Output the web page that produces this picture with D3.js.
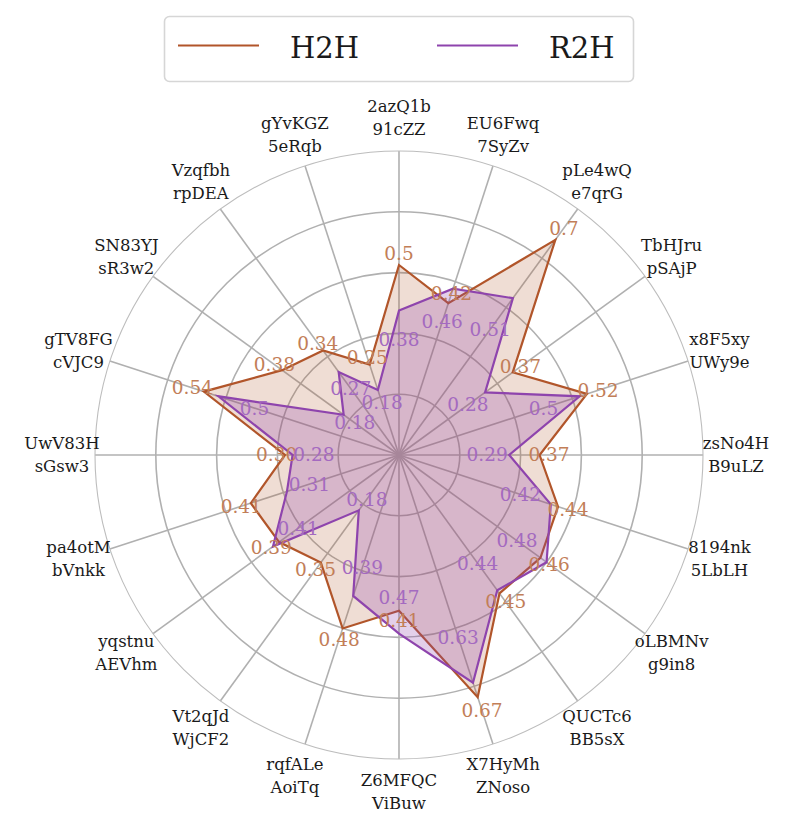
<!DOCTYPE html>
<html>
<head>
<meta charset="utf-8">
<script src="https://cdn.jsdelivr.net/npm/d3@7"></script>
<style>
  html, body { margin: 0; padding: 0; background: #ffffff; }
  svg { display: block; }
</style>
</head>
<body>
<svg id="chart" width="791" height="831" font-family="'DejaVu Serif', serif"></svg>
<script>
// ---- data ----
const categories = [
  ["2azQ1b", "91cZZ"], ["EU6Fwq", "7SyZv"], ["pLe4wQ", "e7qrG"], ["TbHJru", "pSAjP"],
  ["x8F5xy", "UWy9e"], ["zsNo4H", "B9uLZ"], ["8194nk", "5LbLH"], ["oLBMNv", "g9in8"],
  ["QUCTc6", "BB5sX"], ["X7HyMh", "ZNoso"], ["Z6MFQC", "ViBuw"], ["rqfALe", "AoiTq"],
  ["Vt2qJd", "WjCF2"], ["yqstnu", "AEVhm"], ["pa4otM", "bVnkk"], ["UwV83H", "sGsw3"],
  ["gTV8FG", "cVJC9"], ["SN83YJ", "sR3w2"], ["Vzqfbh", "rpDEA"], ["gYvKGZ", "5eRqb"]
];
const seriesNames = ["H2H", "R2H"];
const h2hValues = [0.50, 0.42, 0.70, 0.37, 0.52, 0.37, 0.44, 0.46, 0.45, 0.67,
                   0.41, 0.48, 0.35, 0.39, 0.41, 0.30, 0.54, 0.38, 0.34, 0.25];
const r2hValues = [0.38, 0.46, 0.51, 0.28, 0.50, 0.29, 0.42, 0.48, 0.44, 0.63,
                   0.47, 0.39, 0.18, 0.41, 0.31, 0.28, 0.50, 0.18, 0.27, 0.18];
const h2hLabels = ["0.5", "0.42", "0.7", "0.37", "0.52", "0.37", "0.44", "0.46", "0.45", "0.67",
                   "0.41", "0.48", "0.35", "0.39", "0.41", "0.30", "0.54", "0.38", "0.34", "0.25"];
const r2hLabels = ["0.38", "0.46", "0.51", "0.28", "0.5", "0.29", "0.42", "0.48", "0.44", "0.63",
                   "0.47", "0.39", "0.18", "0.41", "0.31", "0.28", "0.5", "0.18", "0.27", "0.18"];
const radialTicks = [0.16, 0.32, 0.48, 0.64];
const radialMax = 0.8;

// ---- layout ----
const svg = d3.select("#chart");
const cx = 399, cy = 455, R = 304;
const n = categories.length;
const rScale = d3.scaleLinear().domain([0, radialMax]).range([0, R]);
const aScale = d3.scaleLinear().domain([0, n]).range([0, 2 * Math.PI]);
const g = svg.append("g").attr("transform", `translate(${cx},${cy})`);
const px = (a, r) => r * Math.sin(a);
const py = (a, r) => -r * Math.cos(a);

const gridColor = "#b0b0b0";
g.selectAll("circle.ring").data(radialTicks).join("circle")
  .attr("r", d => rScale(d)).attr("fill", "none")
  .attr("stroke", gridColor).attr("stroke-width", 1.6);
g.selectAll("line.spoke").data(d3.range(n)).join("line")
  .attr("x1", 0).attr("y1", 0)
  .attr("x2", i => px(aScale(i), R)).attr("y2", i => py(aScale(i), R))
  .attr("stroke", gridColor).attr("stroke-width", 1.6);
g.append("circle").attr("r", R).attr("fill", "none")
  .attr("stroke", "#bdbdbd").attr("stroke-width", 1.1);

const colors = { H2H: "#b1552a", R2H: "#8e44ad" };
const labelColors = { H2H: "#c27e58", R2H: "#a46ac0" };
const series = [
  { name: "H2H", values: h2hValues, labels: h2hLabels, fillOp: 0.2, lab: v => v * 1.04 + 0.01 },
  { name: "R2H", values: r2hValues, labels: r2hLabels, fillOp: 0.25, lab: v => v * 0.8 }
];
const radial = d3.lineRadial()
  .angle((d, i) => aScale(i)).radius(d => rScale(d))
  .curve(d3.curveLinearClosed);

series.forEach(s => {
  g.append("path").datum(s.values).attr("d", radial)
    .attr("fill", colors[s.name]).attr("fill-opacity", s.fillOp).attr("stroke", "none");
  g.append("path").datum(s.values).attr("d", radial)
    .attr("fill", "none").attr("stroke", colors[s.name]).attr("stroke-width", 2.2)
    .attr("stroke-linejoin", "miter");
});

series.forEach(s => {
  g.selectAll(null).data(s.values).join("text")
    .attr("x", (d, i) => px(aScale(i), rScale(s.lab(d))))
    .attr("y", (d, i) => py(aScale(i), rScale(s.lab(d))))
    .attr("dy", "0.35em")
    .attr("text-anchor", "middle")
    .attr("font-size", 18.5)
    .attr("fill", labelColors[s.name])
    .text((d, i) => s.labels[i]);
});

const labR = 337;
const cat = g.selectAll("text.cat").data(categories).join("text")
  .attr("class", "cat")
  .attr("text-anchor", "middle")
  .attr("font-size", 16.5)
  .attr("fill", "#1a1a1a");
cat.each(function (d, i) {
  const a = aScale(i);
  const x = px(a, labR), y = py(a, labR);
  const t = d3.select(this);
  t.append("tspan").attr("x", x).attr("y", y - 6).text(d[0]);
  t.append("tspan").attr("x", x).attr("y", y + 17).text(d[1]);
});

const lg = svg.append("g");
lg.append("rect").attr("x", 164.5).attr("y", 16.5).attr("width", 469).attr("height", 65)
  .attr("rx", 5).attr("fill", "#ffffff").attr("stroke", "#d6d6d6").attr("stroke-width", 1.6);
const legendItems = [
  { name: seriesNames[0], x: 178 },
  { name: seriesNames[1], x: 437 }
];
legendItems.forEach(it => {
  lg.append("line").attr("x1", it.x).attr("x2", it.x + 81).attr("y1", 45.5).attr("y2", 45.5)
    .attr("stroke", colors[it.name]).attr("stroke-width", 2.2);
  lg.append("text").attr("x", it.x + 112).attr("y", 58).attr("font-size", 29)
    .attr("fill", "#1a1a1a").text(it.name);
});
</script>
</body>
</html>
